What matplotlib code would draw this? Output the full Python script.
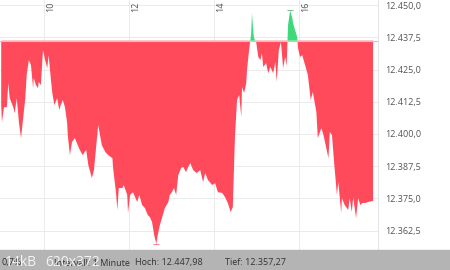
import matplotlib.pyplot as plt
from matplotlib.patches import Rectangle
import numpy as np

plt.rcParams['font.family'] = ['Open Sans', 'DejaVu Sans']

minutes = [0, 1, 4, 8, 10, 12, 17, 19, 22, 25, 28, 31, 34, 36, 39, 42, 45, 46, 49, 52,
           53, 56, 59, 62, 65, 67, 70, 72, 75, 79, 82, 84, 87, 90, 93, 94, 97, 100, 104, 108,
           111, 115, 120, 123, 128, 131, 132, 137, 142, 147, 151, 157, 158, 162, 164, 166, 171, 173, 178, 179,
           182, 186, 192, 195, 199, 203, 207, 210, 213, 216, 219, 221, 224, 227, 231, 236, 238, 241, 244, 247,
           250, 254, 257, 261, 264, 267, 271, 276, 281, 285, 288, 292, 298, 302, 306, 312, 316, 320, 324, 327,
           330, 333, 336, 339, 340, 343, 346, 347, 350, 353, 354, 356, 357, 360, 363, 366, 368, 370, 374, 377,
           380, 384, 387, 389, 392, 395, 398, 401, 403, 405, 408, 411, 412, 415, 418, 419, 422, 425, 429, 433,
           437, 440, 445, 447, 452, 455, 459, 462, 464, 467, 470, 474, 476, 480, 481, 485, 490, 492, 495, 497,
           501, 504, 507, 510, 514, 518, 525]
prices = [12411.2, 12404.6, 12410.4, 12410.4, 12419.8, 12413.9, 12410.4, 12408.1, 12413.9, 12404.6,
          12398.4, 12406.2, 12413.9, 12422.9, 12428.7, 12426.8, 12417.8, 12421.7, 12419.0, 12417.8,
          12420.2, 12419.0, 12432.6, 12428.7, 12425.6, 12430.6, 12421.7, 12416.3, 12411.2, 12413.9,
          12409.3, 12411.2, 12413.2, 12410.4, 12404.6, 12399.6, 12391.8, 12396.9, 12398.4, 12395.7,
          12393.8, 12391.8, 12393.8, 12387.9, 12382.9, 12386.0, 12389.1, 12403.5, 12395.7, 12393.0,
          12391.8, 12390.6, 12386.8, 12377.4, 12370.5, 12379.0, 12379.0, 12380.2, 12376.3, 12369.3,
          12376.3, 12377.4, 12373.6, 12376.3, 12372.4, 12371.2, 12368.5, 12367.7, 12365.8, 12360.8,
          12357.27, 12360.8, 12364.6, 12367.4, 12371.2, 12373.6, 12376.3, 12377.4, 12379.0, 12376.3,
          12384.0, 12386.8, 12387.2, 12385.2, 12387.2, 12388.7, 12386.0, 12384.8, 12386.0, 12381.3,
          12384.8, 12382.1, 12380.2, 12380.9, 12377.4, 12377.1, 12375.5, 12373.2, 12369.7, 12371.6,
          12398.8, 12413.2, 12415.1, 12406.6, 12418.2, 12415.9, 12419.8, 12424.8, 12432.6, 12439.2,
          12446.9, 12439.6, 12437.2, 12435.7, 12429.9, 12428.7, 12431.4, 12426.0, 12427.5, 12423.6,
          12426.0, 12423.6, 12427.9, 12420.2, 12432.6, 12435.7, 12425.6, 12429.9, 12426.4, 12442.3,
          12447.98, 12445.0, 12443.1, 12440.3, 12437.6, 12433.4, 12429.9, 12430.6, 12426.8, 12422.9,
          12413.2, 12416.3, 12408.5, 12398.4, 12402.3, 12399.6, 12394.5, 12390.6, 12400.7, 12399.6,
          12389.1, 12376.3, 12381.3, 12369.3, 12375.1, 12372.4, 12370.5, 12375.1, 12369.7, 12375.5,
          12367.4, 12375.1, 12372.4, 12373.2, 12373.2, 12373.6, 12374.0]

prev_close = 12436.2
hoch = 12447.98
tief = 12357.27
hour_ticks = [10, 12, 14, 16]
y_ticks = [12362.5, 12375.0, 12387.5, 12400.0, 12412.5, 12425.0, 12437.5, 12450.0]


def de_num(v, nd):
    s = f"{v:,.{nd}f}"
    return s.replace(',', 'X').replace('.', ',').replace('X', '.')


t = np.array(minutes, dtype=float)
p = np.array(prices)

fig = plt.figure(figsize=(4.5, 2.7), dpi=100)
ax = fig.add_axes([0, 17 / 270, 378 / 450, 253 / 270])

ax.fill_between(t, p, prev_close, where=p <= prev_close, interpolate=True,
                color='#ff4a5c', lw=0)
ax.fill_between(t, p, prev_close, where=p >= prev_close, interpolate=True,
                color='#3fd97c', lw=0)
ax.axhline(prev_close, color='#f9b3bb', lw=0.8)

# high / low markers
i_hi = int(np.argmax(p))
i_lo = int(np.argmin(p))
ax.hlines(hoch, t[i_hi] - 4, t[i_hi] + 4, color='#8fb89a', lw=0.8)
ax.hlines(tief, t[i_lo] - 4, t[i_lo] + 4, color='#f08a96', lw=0.8)

ax.set_xlim(-1.7, 532)
ax.set_ylim(12353.8, 12452.0)
ax.set_xticks([(h - 9) * 60 for h in hour_ticks])
ax.set_yticks(y_ticks)
ax.grid(color='#ebebeb', lw=0.7)
ax.set_axisbelow(True)
ax.set_xticklabels([])
ax.yaxis.tick_right()
ax.set_yticklabels([de_num(v, 1) for v in y_ticks], fontsize=6.5, color='#555555')
ax.tick_params(length=0, pad=5)
for s in ['top', 'left', 'bottom']:
    ax.spines[s].set_visible(False)
ax.spines['right'].set_color('#e4e4e4')
ax.spines['right'].set_linewidth(0.7)

for h in hour_ticks:
    ax.text((h - 9) * 60 + 3, 12451.4, str(h), rotation=90, ha='left', va='top',
            fontsize=6.5, color='#555555')

# info bar at the bottom
fig.patches.append(Rectangle((0, 0), 1, 20 / 270, transform=fig.transFigure,
                             color='#b4b4b4', zorder=0))
ty = 7 / 270
fig.text(1 / 450, ty, '0,7%', fontsize=6.5, color='#333333', va='center')
fig.text(54 / 450, ty, 'Intervall: 1 Minute', fontsize=6.5, color='#333333', va='center')
fig.text(135 / 450, ty, 'Hoch: ' + de_num(hoch, 2), fontsize=6.5, color='#333333', va='center')
fig.text(225 / 450, ty, 'Tief: ' + de_num(tief, 2), fontsize=6.5, color='#333333', va='center')
fig.text(5 / 450, 8 / 270, '14kB', fontsize=10, color='white', alpha=0.85, va='center')
fig.text(45 / 450, 8 / 270, '620x372', fontsize=10, color='white', alpha=0.85, va='center')

fig.savefig('out.png', dpi=100)
